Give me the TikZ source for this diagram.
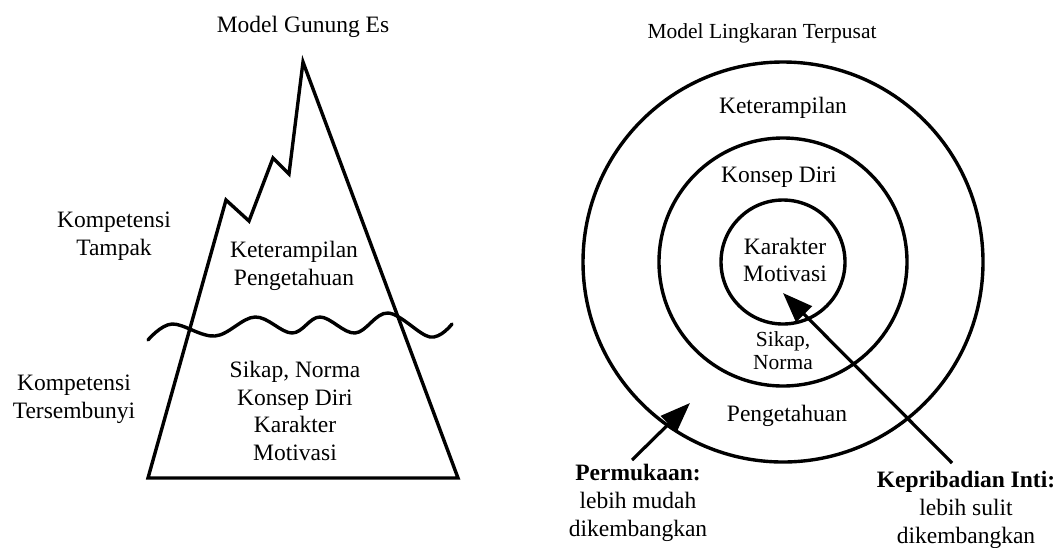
\documentclass[tikz,border=0pt]{standalone}
\usepackage{fontspec}
\setmainfont{Liberation Serif}
\usetikzlibrary{arrows.meta}
\begin{document}
\begin{tikzpicture}[x=1pt,y=-1pt,
  outline/.style={line width=3.4pt,line join=miter},
  ring/.style={draw,line width=3.4pt,circle,inner sep=0pt},
  txt/.style={align=center,font=\fontsize{23.5}{27.7}\selectfont,inner sep=0pt},
  smalltxt/.style={align=center,font=\fontsize{21.5}{23}\selectfont,inner sep=0pt},
  ttl/.style={align=center,inner sep=0pt},
  pointer/.style={line width=3.2pt,-{Triangle[length=30pt,width=22pt]}}]
\useasboundingbox (0,0) rectangle (1062,547);

% ---- iceberg model ----
\node[ttl,font=\fontsize{23.5}{27}\selectfont] (t1) at (303,27) {Model Gunung Es};
\draw[outline] (148,478) -- (226,200) -- (249,221) -- (273,158) -- (289,174)
  -- (303,62) -- (458,478) -- cycle;
\draw[line width=3.4pt,line cap=round] plot[smooth,tension=0.6] coordinates {
  (148,340) (172,324) (215,336) (255,317) (292,333) (320,317) (355,333)
  (388,313) (430,337) (452,324)};
\node[txt] (above) at (294,266) {Keterampilan\\Pengetahuan};
\node[txt] (below) at (295,411) {Sikap, Norma\\Konsep Diri\\Karakter\\Motivasi};
\node[txt] (vis) at (114,236) {Kompetensi\\Tampak};
\node[txt] (hid) at (74,399) {Kompetensi\\Tersembunyi};

% ---- concentric circle model ----
\node[ttl,font=\fontsize{21.5}{25}\selectfont] (t2) at (762,33) {Model Lingkaran Terpusat};
\node[ring,minimum size=400pt] (outer) at (783,262) {};
\node[ring,minimum size=248pt] (mid) at (783,262) {};
\node[ring,minimum size=124pt] (core) at (783,262) {};
\node[txt] (kt) at (783,108) {Keterampilan};
\node[txt] (kd) at (779,177) {Konsep Diri};
\node[txt] (km) at (785,260) {Karakter\\Motivasi};
\node[smalltxt] (sn) at (783,351) {Sikap,\\Norma};
\node[txt] (pg) at (787,416) {Pengetahuan};

\node[txt] (surf) at (638,503) {\textbf{Permukaan:}\\lebih mudah\\dikembangkan};
\node[txt] (inti) at (966,510) {\textbf{Kepribadian Inti:}\\lebih sulit\\dikembangkan};

\coordinate (s0) at (632,460);
\coordinate (s1) at (690,403);
\coordinate (i0) at (952,463);
\coordinate (i1) at (783,293);
\draw[pointer] (s0) -- (s1);
\draw[pointer] (i0) -- (i1);
\end{tikzpicture}
\end{document}
